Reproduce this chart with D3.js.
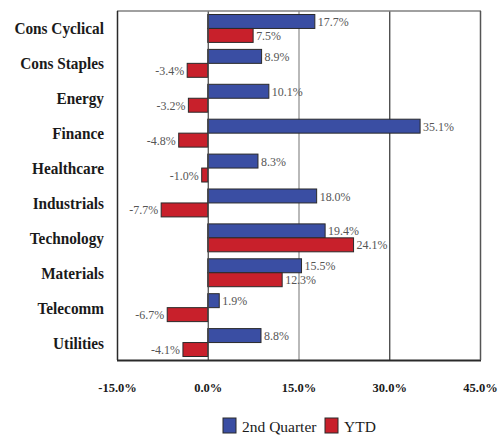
<!DOCTYPE html>
<html>
<head>
<meta charset="utf-8">
<script src="https://cdn.jsdelivr.net/npm/d3@7"></script>
<style>
  html, body { margin: 0; padding: 0; background: #fff; }
  svg { display: block; }
</style>
</head>
<body>
<svg id="chart" width="499" height="435"></svg>
<script>
// Sector returns, in percent
const sectors = ["Cons Cyclical", "Cons Staples", "Energy", "Finance", "Healthcare",
                 "Industrials", "Technology", "Materials", "Telecomm", "Utilities"];
const quarter = [17.7, 8.9, 10.1, 35.1, 8.3, 18.0, 19.4, 15.5, 1.9, 8.8];
const ytd     = [7.5, -3.4, -3.2, -4.8, -1.0, -7.7, 24.1, 12.3, -6.7, -4.1];
const xTicks  = [-15, 0, 15, 30, 45];
const seriesNames = ["2nd Quarter", "YTD"];
const seriesColors = ["#3a4ea3", "#c8202b"];

const svg = d3.select("#chart");
const serif = "'Liberation Serif', 'Times New Roman', serif";
const pct = v => v.toFixed(1) + "%";

const plot = { left: 117, right: 480, top: 11, bottom: 360 };

const x = d3.scaleLinear().domain([-15, 45]).range([plot.left, plot.right]);
const y = d3.scaleBand().domain(sectors).range([plot.top, plot.bottom])
  .paddingInner(0.2).paddingOuter(0.1);
const sub = d3.scaleBand().domain(seriesNames).range([0, y.bandwidth()]);

// frame background
svg.append("rect")
  .attr("x", plot.left).attr("y", plot.top)
  .attr("width", plot.right - plot.left).attr("height", plot.bottom - plot.top)
  .attr("fill", "#fff");

// vertical grid lines
const gridColors = { 15: "#8a8a8a", 30: "#333" };
svg.append("g").selectAll("line")
  .data([15, 30]).join("line")
  .attr("x1", d => x(d) + 0.5).attr("x2", d => x(d) + 0.5)
  .attr("y1", plot.top).attr("y2", plot.bottom)
  .attr("stroke", d => gridColors[d]).attr("stroke-width", 1.2);

// bars with value labels
const rows = sectors.map((s, i) => ({ s, vals: [quarter[i], ytd[i]] }));
const g = svg.append("g");
rows.forEach(r => {
  r.vals.forEach((v, k) => {
    const name = seriesNames[k];
    const y0 = y(r.s) + sub(name);
    g.append("rect")
      .attr("x", x(Math.min(0, v)))
      .attr("y", y0)
      .attr("width", Math.abs(x(v) - x(0)))
      .attr("height", sub.bandwidth())
      .attr("fill", seriesColors[k])
      .attr("stroke", "#2a2a2a").attr("stroke-width", 1);
    g.append("text")
      .attr("transform", `translate(${v >= 0 ? x(v) + 3 : x(v) - 3},${y0 + sub.bandwidth() / 2}) scale(0.92,1)`)
      .attr("dy", "0.35em")
      .attr("text-anchor", v >= 0 ? "start" : "end")
      .attr("font-family", serif).attr("font-size", 13)
      .attr("fill", "#555")
      .text(pct(v));
  });
});

// zero line
svg.append("line")
  .attr("x1", x(0) + 0.5).attr("x2", x(0) + 0.5)
  .attr("y1", plot.top).attr("y2", plot.bottom)
  .attr("stroke", "#444").attr("stroke-width", 1.2);

// frame
svg.append("line").attr("x1", plot.left).attr("x2", plot.right + 1)
  .attr("y1", plot.top).attr("y2", plot.top)
  .attr("stroke", "#808080").attr("stroke-width", 1.5);
svg.append("line").attr("x1", plot.left).attr("x2", plot.right + 1)
  .attr("y1", plot.bottom + 0.5).attr("y2", plot.bottom + 0.5)
  .attr("stroke", "#2a2a2a").attr("stroke-width", 1.8);
svg.append("line").attr("x1", plot.left + 0.5).attr("x2", plot.left + 0.5)
  .attr("y1", plot.top).attr("y2", plot.bottom)
  .attr("stroke", "#2a2a2a").attr("stroke-width", 1.5);
svg.append("line").attr("x1", plot.right + 0.5).attr("x2", plot.right + 0.5)
  .attr("y1", plot.top).attr("y2", plot.bottom)
  .attr("stroke", "#555").attr("stroke-width", 1.5);

// category axis labels
svg.append("g").selectAll("text")
  .data(sectors).join("text")
  .attr("transform", d => `translate(104,${y(d) + y.bandwidth() / 2}) scale(0.9,1)`)
  .attr("dy", "0.35em")
  .attr("text-anchor", "end")
  .attr("font-family", serif).attr("font-weight", "bold").attr("font-size", 17)
  .attr("fill", "#1a1a1a")
  .text(d => d);

// value axis
const xAxis = d3.axisBottom(x).tickValues(xTicks)
  .tickFormat(pct).tickSize(0).tickPadding(0);
const ax = svg.append("g").attr("transform", `translate(0, 392)`).call(xAxis);
ax.select(".domain").remove();
ax.selectAll("text")
  .attr("font-family", serif).attr("font-weight", "bold").attr("font-size", 12.5)
  .attr("fill", "#1a1a1a").attr("dy", 0);

// legend
const legendItems = [
  { name: seriesNames[0], color: seriesColors[0], x: 223 },
  { name: seriesNames[1], color: seriesColors[1], x: 325 }
];
const lg = svg.append("g");
legendItems.forEach(it => {
  lg.append("rect").attr("x", it.x).attr("y", 418).attr("width", 13).attr("height", 15)
    .attr("fill", it.color).attr("stroke", "#2a2a2a").attr("stroke-width", 1);
  lg.append("text").attr("x", it.x + 19).attr("y", 432)
    .attr("font-family", serif).attr("font-size", 15.5).attr("fill", "#1a1a1a")
    .text(it.name);
});
</script>
</body>
</html>
